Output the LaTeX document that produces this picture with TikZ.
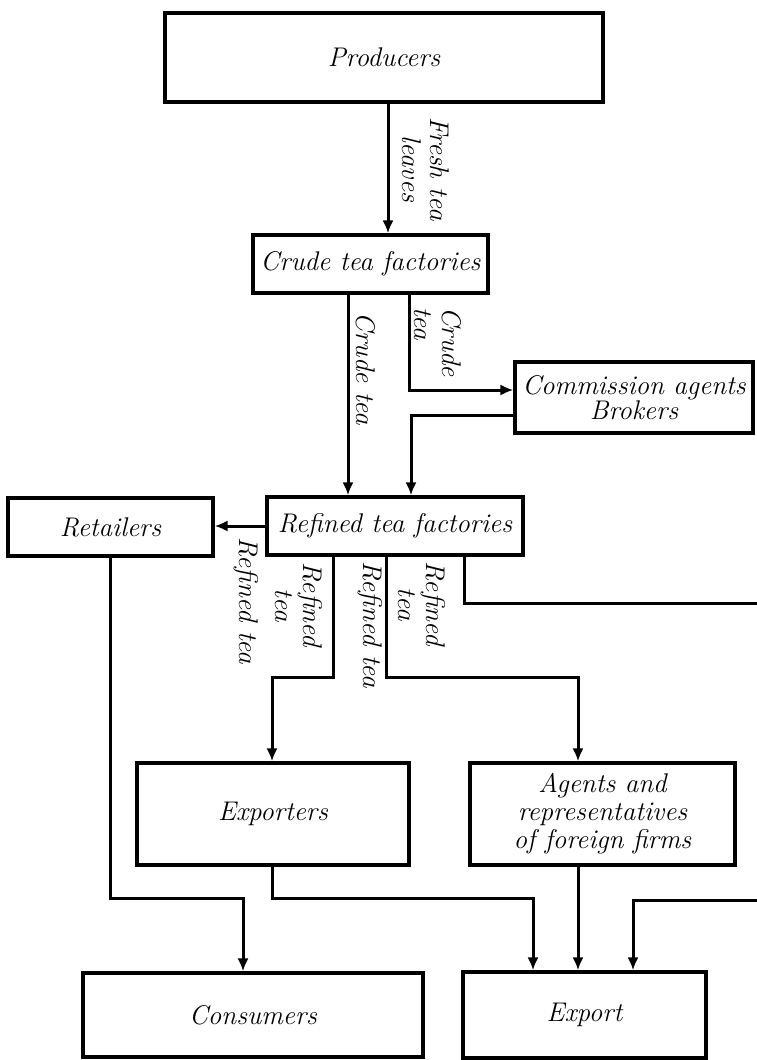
\documentclass[tikz,border=0pt]{standalone}
\usetikzlibrary{arrows.meta}
\begin{document}
\begin{tikzpicture}[x=1pt,y=-1pt,
  txt/.style={font=\fontsize{27}{28}\selectfont\itshape},
  box/.style={txt, draw, line width=3.2pt, inner sep=0pt, align=center},
  flow/.style={line width=3pt},
  arr/.style={flow, -{Latex[length=13pt,width=11pt]}},
  lbl/.style={txt, rotate=-90, inner sep=0pt, align=center}]
\useasboundingbox (0,0) rectangle (757,1060);

% boxes
\node[box, line width=4pt, minimum width=438pt, minimum height=89pt] (prod) at (384,57.5) {Producers};
\node[box, minimum width=235pt, minimum height=58pt] (crude) at (370.5,264) {Crude tea factories};
\node[box, minimum width=238pt, minimum height=71pt, font=\fontsize{27}{23}\selectfont\itshape] (comm) at (634,397.5) {Commission agents\\Brokers};
\node[box, minimum width=256pt, minimum height=58pt] (ref) at (395,526) {Refined tea factories};
\node[box, minimum width=205pt, minimum height=58pt] (ret) at (110.5,527) {Retailers};
\node[box, minimum width=272pt, minimum height=102pt] (expo) at (273,814) {Exporters};
\node[box, minimum width=265pt, minimum height=102pt] (agt) at (602.5,814) {Agents and\\representatives\\of foreign firms};
\node[box, minimum width=340pt, minimum height=84pt] (cons) at (253,1015) {Consumers};
\node[box, minimum width=243pt, minimum height=86pt] (exp) at (584.5,1015) {Export};

% columns and rows of the connectors
\coordinate (xF) at (388,0);
\coordinate (xC1) at (348,0);
\coordinate (xC2) at (409,0);
\coordinate (xK) at (411,0);
\coordinate (xR) at (110,0);
\coordinate (xA) at (333,0);
\coordinate (xB) at (386,0);
\coordinate (xC) at (464,0);
\coordinate (xE) at (272,0);
\coordinate (xG) at (578,0);
\coordinate (xCo) at (243,0);
\coordinate (xX1) at (533,0);
\coordinate (xX3) at (633,0);
\coordinate (yK1) at (0,390);
\coordinate (yK2) at (0,415);
\coordinate (yJ) at (0,677);
\coordinate (yL) at (0,898);
\coordinate (offA) at (757,603);
\coordinate (offB) at (757,900);

% connectors
\draw[arr] (prod.south -| xF) -- (crude.north -| xF);
\draw[arr] (crude.south -| xC1) -- (ref.north -| xC1);
\draw[arr] (crude.south -| xC2) |- (comm.west |- yK1);
\draw[arr] (comm.west |- yK2) -| (ref.north -| xK);
\draw[arr] (ref.west) -- (ret.east |- ref.west);
\draw[arr] (ref.south -| xA) -- (xA |- yJ) -| (expo.north -| xE);
\draw[arr] (ref.south -| xB) -- (xB |- yJ) -| (agt.north -| xG);
\draw[flow] (ref.south -| xC) |- (offA);
\draw[arr] (ret.south -| xR) -- (xR |- yL) -| (cons.north -| xCo);
\draw[arr] (expo.south -| xE) -- (xE |- yL) -| (exp.north -| xX1);
\draw[arr] (agt.south -| xG) -- (exp.north -| xG);
\draw[arr] (offB) -| (exp.north -| xX3);

% flow labels
\node[lbl] (lF) at (426,169) {Fresh tea\\leaves};
\node[lbl] (lC1) at (366,369) {Crude tea};
\node[lbl, align=left] (lC2) at (438,342) {Crude\\tea};
\node[lbl] (lR1) at (246,601) {Refined tea};
\node[lbl] (lR2) at (299,605) {Refined\\tea};
\node[lbl] (lR3) at (370,625) {Refined tea};
\node[lbl] (lR4) at (422,604) {Refined\\tea};
\end{tikzpicture}
\end{document}
